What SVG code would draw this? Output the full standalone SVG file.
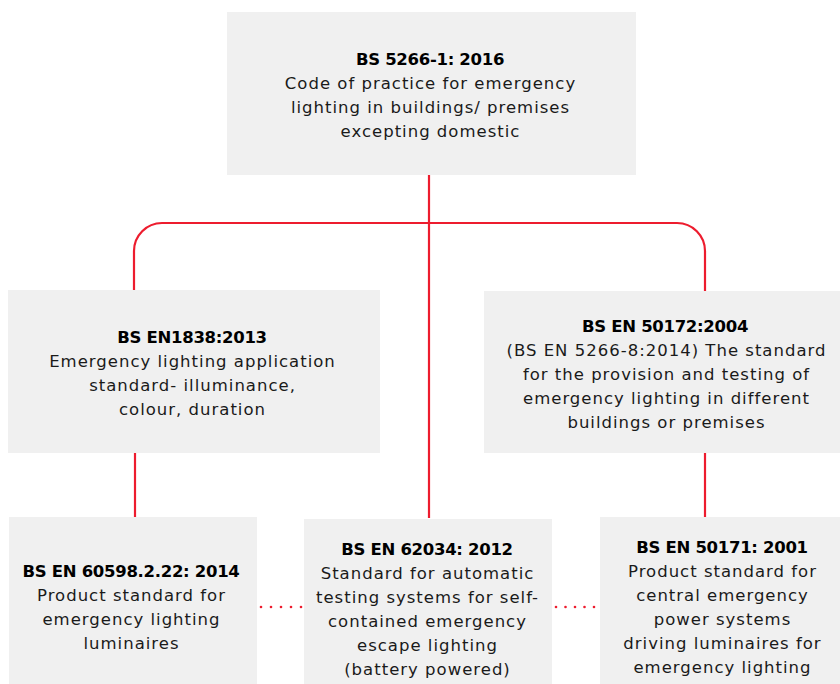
<svg xmlns="http://www.w3.org/2000/svg" width="840" height="684" viewBox="0 0 840 684">
<style>
.box{fill:#f0f0f0}
text{font-family:"DejaVu Sans","Noto Sans",sans-serif;font-size:16.5px;fill:#1a1a1a;text-anchor:middle;letter-spacing:1px}
.b{font-weight:bold;fill:#000;letter-spacing:-0.3px}
.conn{fill:none;stroke:#ed1c2e;stroke-width:2.2}
.dot{fill:#ed1c2e}
</style>
<rect width="840" height="684" fill="#fff"/>
<g id="connectors">
<path class="conn" d="M429,175 V518"/>
<path class="conn" d="M134,290 V251 A28,28 0 0 1 162,223 H677 A28,28 0 0 1 705,251 V291"/>
<path class="conn" d="M135,452 V517"/>
<path class="conn" d="M705,452 V517"/>
<g class="dot">
<circle cx="261" cy="607" r="1.3"/><circle cx="271" cy="607" r="1.3"/><circle cx="281" cy="607" r="1.3"/><circle cx="291" cy="607" r="1.3"/><circle cx="301" cy="607" r="1.3"/>
<circle cx="556" cy="607" r="1.3"/><circle cx="565.5" cy="607" r="1.3"/><circle cx="575" cy="607" r="1.3"/><circle cx="584.5" cy="607" r="1.3"/><circle cx="594" cy="607" r="1.3"/>
</g>
</g>
<g id="node-bs5266">
<rect class="box" x="227" y="12" width="409" height="163"/>
<text x="430" y="65" class="b">BS 5266-1: 2016</text>
<text x="430.5" y="89">Code of practice for emergency</text>
<text x="430.5" y="113">lighting in buildings/ premises</text>
<text x="430.5" y="137">excepting domestic</text>
</g>
<g id="node-en1838">
<rect class="box" x="8" y="290" width="372" height="163"/>
<text x="192" y="343" class="b">BS EN1838:2013</text>
<text x="192.5" y="367">Emergency lighting application</text>
<text x="192.5" y="391">standard- illuminance,</text>
<text x="192.5" y="415">colour, duration</text>
</g>
<g id="node-en50172">
<rect class="box" x="484" y="291" width="356" height="162"/>
<text x="665" y="332" class="b">BS EN 50172:2004</text>
<text x="666.5" y="356">(BS EN 5266-8:2014) The standard</text>
<text x="666.5" y="380">for the provision and testing of</text>
<text x="666.5" y="404">emergency lighting in different</text>
<text x="666.5" y="428">buildings or premises</text>
</g>
<g id="node-en60598">
<rect class="box" x="9" y="517" width="248" height="167"/>
<text x="131" y="577" class="b">BS EN 60598.2.22: 2014</text>
<text x="131.5" y="601">Product standard for</text>
<text x="131.5" y="625">emergency lighting</text>
<text x="131.5" y="649">luminaires</text>
</g>
<g id="node-en62034">
<rect class="box" x="304" y="519" width="248" height="165"/>
<text x="427" y="555" class="b">BS EN 62034: 2012</text>
<text x="427.5" y="579">Standard for automatic</text>
<text x="427.5" y="603">testing systems for self-</text>
<text x="427.5" y="627">contained emergency</text>
<text x="427.5" y="651">escape lighting</text>
<text x="427.5" y="675">(battery powered)</text>
</g>
<g id="node-en50171">
<rect class="box" x="600" y="517" width="240" height="167"/>
<text x="722" y="553" class="b">BS EN 50171: 2001</text>
<text x="722.5" y="577">Product standard for</text>
<text x="722.5" y="601">central emergency</text>
<text x="722.5" y="625">power systems</text>
<text x="722.5" y="649">driving luminaires for</text>
<text x="722.5" y="673">emergency lighting</text>
</g>
</svg>
